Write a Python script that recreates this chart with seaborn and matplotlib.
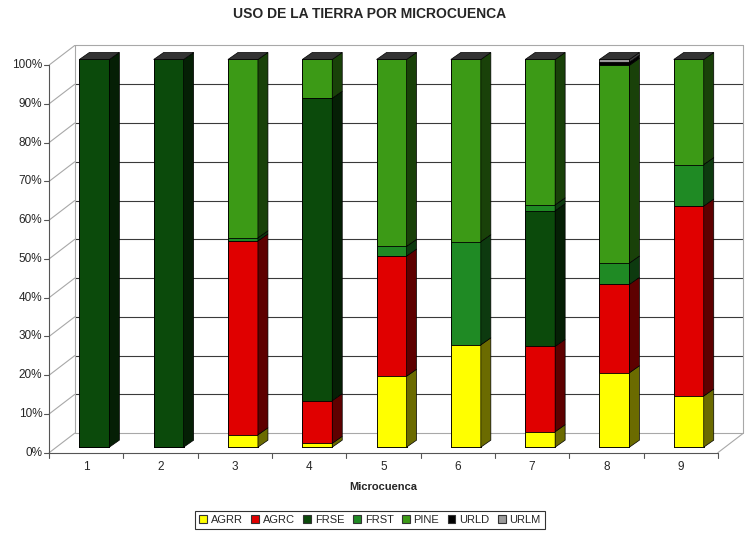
import numpy as np
import pandas as pd
import matplotlib
matplotlib.use("Agg")
import matplotlib.pyplot as plt
from matplotlib.patches import Polygon, Patch
from matplotlib.colors import to_rgb
import seaborn as sns

# datos (% de superficie por uso)
microcuencas = ["1", "2", "3", "4", "5", "6", "7", "8", "9"]
usos = ["AGRR", "AGRC", "FRSE", "FRST", "PINE", "URLD", "URLM"]
agrr = [0, 0, 3.2, 1.0, 18.3, 26.4, 4.0, 19.2, 13.2]
agrc = [0, 0, 50.0, 11.0, 31.0, 0, 22.0, 22.8, 49.0]
frse = [100, 100, 0, 78.0, 0, 0, 35.0, 0, 0]
frst = [0, 0, 0.8, 0, 2.5, 26.6, 1.5, 5.5, 10.7]
pine = [0, 0, 46.0, 10.0, 48.2, 47.0, 37.5, 51.0, 27.1]
urld = [0, 0, 0, 0, 0, 0, 0, 0.8, 0]
urlm = [0, 0, 0, 0, 0, 0, 0, 0.7, 0]
y_ticks = [0, 10, 20, 30, 40, 50, 60, 70, 80, 90, 100]
y_labels = ["0%", "10%", "20%", "30%", "40%", "50%", "60%", "70%", "80%", "90%", "100%"]

colores = ["#ffff00", "#e00000", "#0b4a0b", "#1f8a24", "#3c9a16", "#000000", "#9a9a9a"]
lados = [tuple(np.array(to_rgb(c)) * 0.42) for c in colores]

df = pd.DataFrame({"AGRR": agrr, "AGRC": agrc, "FRSE": frse, "FRST": frst,
                   "PINE": pine, "URLD": urld, "URLM": urlm}, index=microcuencas)
acum = df.cumsum(axis=1)

sns.set_style("white")
plt.rcParams["font.family"] = ["Liberation Sans", "DejaVu Sans"]

fig = plt.figure(figsize=(7.47, 5.34), dpi=100)
ax = fig.add_axes([0.0517, 0.1408, 0.9449, 0.7841])

# pixel -> unidades de datos
PX = 1 / 74.3
PY = 1 / 3.877
ANCHO = 30 * PX
DX, DY = 10 * PX, 7 * PY          # profundidad de cada barra
FX, FY = -8 * PX, -5.5 * PY       # plano frontal (ejes)
BX, BY = 17.5 * PX, 14 * PY       # pared del fondo

# barras apiladas: se dibuja el acumulado de arriba hacia abajo
for uso, color in reversed(list(zip(usos, colores))):
    sns.barplot(x=microcuencas, y=acum[uso].values, color=color, width=ANCHO,
                saturation=1, edgecolor="black", linewidth=0.6, errorbar=None,
                ax=ax, zorder=3)

# caras laterales y superiores
for j, barra in enumerate(ax.patches[:len(microcuencas)]):
    x0 = barra.get_x()
    x1 = x0 + barra.get_width()
    base = 0
    for uso, lado in zip(usos, lados):
        alto = df[uso].iloc[j]
        if alto > 0:
            ax.add_patch(Polygon([(x1, base), (x1 + DX, base + DY),
                                  (x1 + DX, base + alto + DY), (x1, base + alto)],
                                 closed=True, fc=lado, ec="black", lw=0.5, zorder=3))
        base += alto
    ax.add_patch(Polygon([(x0, base), (x0 + DX, base + DY), (x1 + DX, base + DY), (x1, base)],
                         closed=True, fc="#333333", ec="black", lw=0.5, zorder=3))

n = len(microcuencas)
fx0, fx1 = -0.5 + FX, n - 0.5 + FX
bx0, bx1 = -0.5 + BX, n - 0.5 + BX
gris = "#a8a8a8"

# pared del fondo y pared izquierda
for v, lab in zip(y_ticks, y_labels):
    c = "#3a3a3a" if 0 < v < 100 else gris
    ax.plot([bx0, bx1], [v + BY, v + BY], color=c, lw=0.8, zorder=1, clip_on=False)
    ax.plot([fx0, bx0], [v + FY, v + BY], color=gris, lw=0.8, zorder=1, clip_on=False)
    ax.plot([fx0 - 5 * PX, fx0], [v + FY, v + FY], color="#555555", lw=0.8, clip_on=False)
    ax.text(fx0 - 7 * PX, v + FY, lab, ha="right", va="center", fontsize=8.5)

ax.plot([fx0, fx0], [FY, 100 + FY], color="#555555", lw=0.8, zorder=1, clip_on=False)
ax.plot([bx0, bx0], [BY, 100 + BY], color=gris, lw=0.8, zorder=1, clip_on=False)
ax.plot([bx1, bx1], [BY, 100 + BY], color=gris, lw=0.8, zorder=1, clip_on=False)

# piso
ax.plot([fx0, fx1], [FY, FY], color="#555555", lw=0.8, zorder=2, clip_on=False)
ax.plot([fx1, bx1], [FY, BY], color=gris, lw=0.8, zorder=1, clip_on=False)
for k in range(n + 1):
    ax.plot([k - 0.5 + FX] * 2, [FY, FY - 5 * PY], color="#555555", lw=0.8, clip_on=False)
for i, lab in enumerate(microcuencas):
    ax.text(i + FX, FY - 14.5 * PY, lab, ha="center", va="center", fontsize=8.5)

ax.text((fx0 + fx1) / 2, FY - 34.5 * PY, "Microcuenca", ha="center", va="center",
        fontsize=8, fontweight="bold")

ax.set_xlim(-0.75, 8.75)
ax.set_ylim(-3, 105)
ax.set_axis_off()

fig.text(370 / 747, 1 - 14 / 534, "USO DE LA TIERRA POR MICROCUENCA", ha="center",
         va="center", fontsize=10, fontweight="bold")

handles = [Patch(facecolor=c, edgecolor="#333333", linewidth=0.8) for c in colores]
leg = fig.legend(handles, usos, ncol=7, loc="center", bbox_to_anchor=(370 / 747, 1 - 520 / 534),
                 frameon=True, fancybox=False, edgecolor="black", fontsize=8,
                 handlelength=0.7, handleheight=0.7, handletextpad=0.35,
                 columnspacing=0.75, borderpad=0.35)
leg.get_frame().set_linewidth(0.8)

fig.savefig("out.png", dpi=100)
